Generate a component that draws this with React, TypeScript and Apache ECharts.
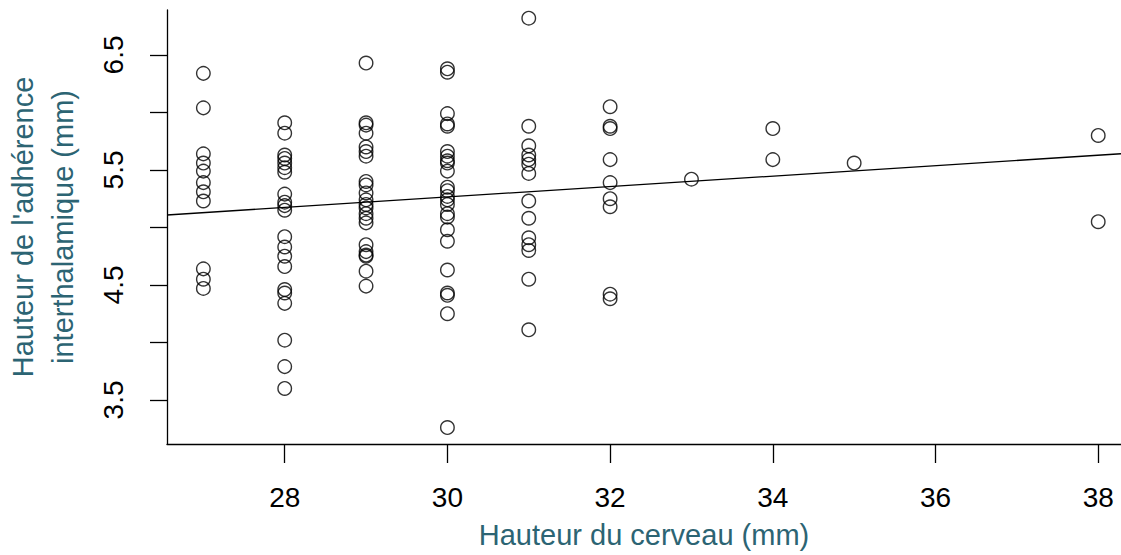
import React, { useEffect, useRef } from "react";
import * as echarts from "echarts";

// Data: brain height (mm) -> interthalamic adhesion height (mm)
const h27 = [6.34, 6.04, 5.64, 5.56, 5.49, 5.39, 5.31, 5.23, 4.64, 4.55, 4.47];
const h28 = [5.91, 5.82, 5.63, 5.6, 5.56, 5.52, 5.48, 5.29, 5.22, 5.19, 5.15, 4.92, 4.83, 4.75, 4.66, 4.46, 4.43, 4.34, 4.02, 3.79, 3.6];
const h29 = [6.43, 5.91, 5.89, 5.82, 5.7, 5.66, 5.62, 5.4, 5.37, 5.3, 5.24, 5.2, 5.17, 5.12, 5.08, 5.04, 4.85, 4.79, 4.76, 4.75, 4.62, 4.49];
const h30 = [6.38, 6.35, 5.99, 5.9, 5.88, 5.66, 5.62, 5.58, 5.56, 5.49, 5.35, 5.32, 5.27, 5.24, 5.2, 5.12, 5.09, 4.98, 4.88, 4.63, 4.43, 4.41, 4.25, 3.26];
const h31 = [6.82, 5.88, 5.71, 5.63, 5.59, 5.55, 5.47, 5.23, 5.08, 4.91, 4.85, 4.8, 4.55, 4.11];
const h32 = [6.05, 5.88, 5.86, 5.59, 5.39, 5.25, 5.18, 4.42, 4.38];
const h33 = [5.42];
const h34 = [5.86, 5.59];
const h35 = [5.56];
const h38 = [5.8, 5.05];

const columnX = [27, 28, 29, 30, 31, 32, 33, 34, 35, 38];
const columnY = [h27, h28, h29, h30, h31, h32, h33, h34, h35, h38];

// Fitted regression line
const fitIntercept = 3.903;
const fitSlope = 0.0454;

const xRange = [26.553, 38.28];
const yRange = [3.117, 6.891];
const xTicks = [28, 30, 32, 34, 36, 38];
const yTicks = [3.5, 4, 4.5, 5, 5.5, 6, 6.5];
const yLabels = [3.5, 4.5, 5.5, 6.5];

const xTitle = "Hauteur du cerveau (mm)";
const yTitle = "Hauteur de l'adhérence\ninterthalamique (mm)";

export default function App() {
  const ref = useRef<HTMLDivElement>(null);

  useEffect(() => {
    document.body.style.margin = "0";
    if (!ref.current) return;
    const chart = echarts.init(ref.current, null, { renderer: "svg" });

    const points: number[][] = [];
    columnX.forEach((x, i) => columnY[i].forEach((y) => points.push([x, y])));
    const fitLine = xRange.map((x) => [x, fitIntercept + fitSlope * x]);

    const font = "Liberation Sans";
    const teal = "#2c6473";

    chart.setOption({
      animation: false,
      backgroundColor: "#ffffff",
      grid: { left: 167, right: 0, top: 10, bottom: 111, containLabel: false, outerBoundsMode: "none" },
      xAxis: {
        type: "value",
        min: xRange[0],
        max: xRange[1],
        name: xTitle,
        nameLocation: "middle",
        nameGap: 76,
        nameTextStyle: { color: teal, fontSize: 29, fontFamily: font },
        axisLine: { show: true, onZero: false, lineStyle: { color: "#000", width: 1.3 } },
        axisTick: { show: true, length: 19, customValues: xTicks, lineStyle: { color: "#000", width: 1.3 } },
        axisLabel: { customValues: xTicks, color: "#000", fontSize: 28, fontFamily: font, margin: 39 },
        splitLine: { show: false },
      },
      yAxis: {
        type: "value",
        min: yRange[0],
        max: yRange[1],
        name: yTitle,
        nameLocation: "middle",
        nameRotate: 90,
        nameGap: 84,
        nameTextStyle: { color: teal, fontSize: 29, fontFamily: font, lineHeight: 40 },
        axisLine: { show: true, onZero: false, lineStyle: { color: "#000", width: 1.3 } },
        axisTick: { show: true, length: 17, customValues: yTicks, lineStyle: { color: "#000", width: 1.3 } },
        axisLabel: { customValues: yLabels, rotate: 90, color: "#000", fontSize: 28, fontFamily: font, margin: 40 },
        splitLine: { show: false },
      },
      series: [
        {
          type: "scatter",
          data: points,
          symbol: "circle",
          symbolSize: 13.5,
          itemStyle: { color: "rgba(0,0,0,0)", borderColor: "#000", borderWidth: 1.4 },
          z: 3,
        },
        {
          type: "line",
          data: fitLine,
          showSymbol: false,
          symbol: "none",
          lineStyle: { color: "#000", width: 1.3 },
          z: 2,
        },
      ],
    });

    return () => chart.dispose();
  }, []);

  return <div ref={ref} style={{ width: 1121, height: 555 }} />;
}
